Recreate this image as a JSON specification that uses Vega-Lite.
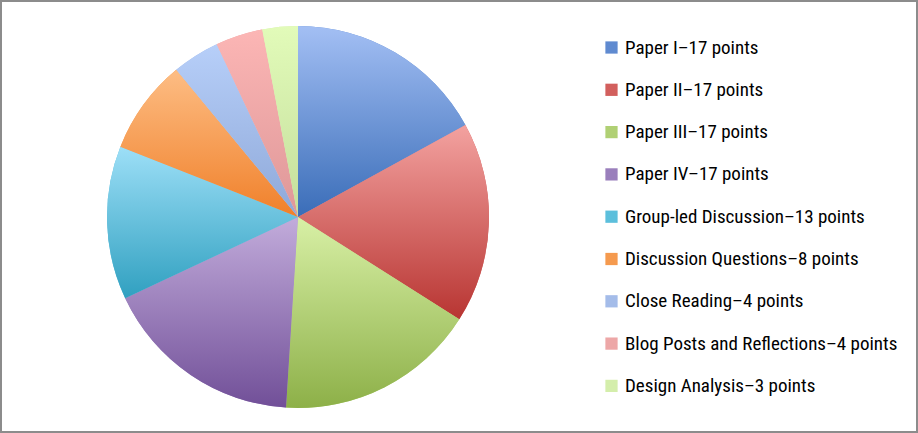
{
  "$schema": "https://vega.github.io/schema/vega-lite/v6.json",
  "width": 918,
  "height": 433,
  "autosize": {"type": "fit", "contains": "padding"},
  "padding": 1,
  "background": "white",
  "view": {"stroke": "#8c8c8c", "strokeWidth": 2},
  "data": {
    "values": [
      {"item": "Paper I–17 points", "points": 17, "rank": 1},
      {"item": "Paper II–17 points", "points": 17, "rank": 2},
      {"item": "Paper III–17 points", "points": 17, "rank": 3},
      {"item": "Paper IV–17 points", "points": 17, "rank": 4},
      {"item": "Group-led Discussion–13 points", "points": 13, "rank": 5},
      {"item": "Discussion Questions–8 points", "points": 8, "rank": 6},
      {"item": "Close Reading–4 points", "points": 4, "rank": 7},
      {"item": "Blog Posts and Reflections–4 points", "points": 4, "rank": 8},
      {"item": "Design Analysis–3 points", "points": 3, "rank": 9}
    ]
  },
  "transform": [
    {"stack": "points", "groupby": [], "sort": [{"field": "rank", "order": "ascending"}], "as": ["t0", "t1"]}
  ],
  "encoding": {
    "theta": {"field": "t0", "type": "quantitative", "scale": {"domain": [0, 100]}},
    "theta2": {"field": "t1"}
  },
  "layer": [
    {
      "mark": {"type": "arc", "outerRadius": 191, "x": 297, "y": 216},
      "encoding": {
        "color": {
          "field": "item",
          "type": "nominal",
          "sort": null,
          "scale": {
            "domain": [
              "Paper I–17 points",
              "Paper II–17 points",
              "Paper III–17 points",
              "Paper IV–17 points",
              "Group-led Discussion–13 points",
              "Discussion Questions–8 points",
              "Close Reading–4 points",
              "Blog Posts and Reflections–4 points",
              "Design Analysis–3 points"
            ],
            "range": ["#5f8ad0", "#d25f5d", "#b0d074", "#9a7fbc", "#5cbfdc", "#f59a4e", "#a4bce9", "#eda7a7", "#d4eeab"]
          },
          "legend": {
            "title": null,
            "orient": "none",
            "legendX": 601,
            "legendY": 37,
            "symbolType": "square",
            "symbolSize": 150,
            "symbolStrokeWidth": 0,
            "rowPadding": 22.3,
            "labelFont": "Roboto Condensed, Roboto, sans-serif",
            "labelFontSize": 19,
            "labelColor": "black",
            "labelOffset": 4,
            "labelLimit": 400
          }
        }
      }
    },
    {
      "transform": [{"filter": "datum.rank == 1"}],
      "mark": {"type": "arc", "outerRadius": 191, "x": 297, "y": 216,
        "color": {"gradient": "linear", "x1": 0, "y1": 0, "x2": 0, "y2": 1, "stops": [{"offset": 0, "color": "#a3bff4"}, {"offset": 1, "color": "#3a6db8"}]}}
    },
    {
      "transform": [{"filter": "datum.rank == 2"}],
      "mark": {"type": "arc", "outerRadius": 191, "x": 297, "y": 216,
        "color": {"gradient": "linear", "x1": 0, "y1": 0, "x2": 0, "y2": 1, "stops": [{"offset": 0, "color": "#f3a2a0"}, {"offset": 1, "color": "#b83532"}]}}
    },
    {
      "transform": [{"filter": "datum.rank == 3"}],
      "mark": {"type": "arc", "outerRadius": 191, "x": 297, "y": 216,
        "color": {"gradient": "linear", "x1": 0, "y1": 0, "x2": 0, "y2": 1, "stops": [{"offset": 0, "color": "#d8f0a6"}, {"offset": 1, "color": "#8db048"}]}}
    },
    {
      "transform": [{"filter": "datum.rank == 4"}],
      "mark": {"type": "arc", "outerRadius": 191, "x": 297, "y": 216,
        "color": {"gradient": "linear", "x1": 0, "y1": 0, "x2": 0, "y2": 1, "stops": [{"offset": 0, "color": "#c2acdb"}, {"offset": 1, "color": "#714f98"}]}}
    },
    {
      "transform": [{"filter": "datum.rank == 5"}],
      "mark": {"type": "arc", "outerRadius": 191, "x": 297, "y": 216,
        "color": {"gradient": "linear", "x1": 0, "y1": 0, "x2": 0, "y2": 1, "stops": [{"offset": 0, "color": "#9ddff7"}, {"offset": 1, "color": "#30a0c0"}]}}
    },
    {
      "transform": [{"filter": "datum.rank == 6"}],
      "mark": {"type": "arc", "outerRadius": 191, "x": 297, "y": 216,
        "color": {"gradient": "linear", "x1": 0, "y1": 0, "x2": 0, "y2": 1, "stops": [{"offset": 0, "color": "#fdbd84"}, {"offset": 1, "color": "#f0802a"}]}}
    },
    {
      "transform": [{"filter": "datum.rank == 7"}],
      "mark": {"type": "arc", "outerRadius": 191, "x": 297, "y": 216,
        "color": {"gradient": "linear", "x1": 0, "y1": 0, "x2": 0, "y2": 1, "stops": [{"offset": 0, "color": "#b7cff9"}, {"offset": 1, "color": "#8ea8d8"}]}}
    },
    {
      "transform": [{"filter": "datum.rank == 8"}],
      "mark": {"type": "arc", "outerRadius": 191, "x": 297, "y": 216,
        "color": {"gradient": "linear", "x1": 0, "y1": 0, "x2": 0, "y2": 1, "stops": [{"offset": 0, "color": "#fcb6b5"}, {"offset": 1, "color": "#de9798"}]}}
    },
    {
      "transform": [{"filter": "datum.rank == 9"}],
      "mark": {"type": "arc", "outerRadius": 191, "x": 297, "y": 216,
        "color": {"gradient": "linear", "x1": 0, "y1": 0, "x2": 0, "y2": 1, "stops": [{"offset": 0, "color": "#e2fbb9"}, {"offset": 1, "color": "#c4de9c"}]}}
    }
  ]
}
